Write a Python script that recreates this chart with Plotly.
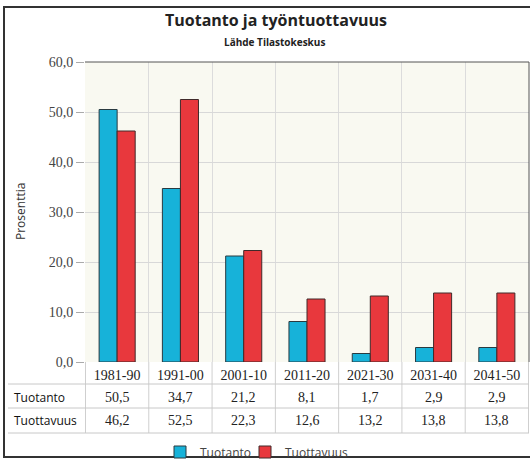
import plotly.graph_objects as go

categories = ["1981-90", "1991-00", "2001-10", "2011-20", "2021-30", "2031-40", "2041-50"]
tuotanto = [50.5, 34.7, 21.2, 8.1, 1.7, 2.9, 2.9]
tuottavuus = [46.2, 52.5, 22.3, 12.6, 13.2, 13.8, 13.8]
series_names = ["Tuotanto", "Tuottavuus"]
y_ticks = [0, 10, 20, 30, 40, 50, 60]

CYAN = "#17b2d9"
RED = "#e8383d"
SERIF = "Liberation Serif"
SANS = "Open Sans"

fig = go.Figure()
fig.add_trace(go.Bar(x=categories, y=tuotanto, name=series_names[0], legend="legend",
                     marker=dict(color=CYAN, line=dict(color="#2a3a40", width=1))))
fig.add_trace(go.Bar(x=categories, y=tuottavuus, name=series_names[1], legend="legend2",
                     marker=dict(color=RED, line=dict(color="#402a2a", width=1))))

def py(p):
    # pixel y -> paper y (plot from 62 to 362)
    return (362 - p) / 300.0

def px(p):
    return (p - 85) / 444.0

shapes = []
for i in range(len(categories) + 1):
    shapes.append(dict(type="line", xref="x", yref="paper", x0=i - 0.5, x1=i - 0.5,
                       y0=0, y1=py(433), line=dict(color="#cfcfcf", width=1)))
for yy in [384, 408, 433]:
    shapes.append(dict(type="line", xref="paper", yref="paper", x0=px(8), x1=1,
                       y0=py(yy), y1=py(yy), line=dict(color="#c8c8c8", width=1)))
shapes.append(dict(type="line", xref="paper", yref="paper", x0=0, x1=1, y0=1, y1=1,
                   line=dict(color="#555", width=1)))
shapes.append(dict(type="line", xref="paper", yref="paper", x0=1, x1=1, y0=0, y1=1,
                   line=dict(color="#555", width=1)))
shapes.append(dict(type="rect", xref="paper", yref="paper", x0=px(4), x1=px(545),
                   y0=py(457), y1=py(7), line=dict(color="#333", width=2)))

annotations = []
for i, c in enumerate(categories):
    annotations.append(dict(x=c, xref="x", y=py(397), yref="paper", xanchor="center", yanchor="middle",
                            text=f"{tuotanto[i]:.1f}".replace(".", ","),
                            showarrow=False, font=dict(family=SERIF, size=14, color="#222")))
    annotations.append(dict(x=c, xref="x", y=py(420), yref="paper", xanchor="center", yanchor="middle",
                            text=f"{tuottavuus[i]:.1f}".replace(".", ","),
                            showarrow=False, font=dict(family=SERIF, size=14, color="#222")))
annotations.append(dict(x=px(12), xref="paper", y=py(397), yref="paper", text=series_names[0],
                        xanchor="left", yanchor="middle", showarrow=False,
                        font=dict(family=SANS, size=12, color="#111")))
annotations.append(dict(x=px(12), xref="paper", y=py(420), yref="paper", text=series_names[1],
                        xanchor="left", yanchor="middle", showarrow=False,
                        font=dict(family=SANS, size=12, color="#111")))
annotations.append(dict(x=px(274), xref="paper", y=py(42), yref="paper", text="<b>Lähde Tilastokeskus</b>",
                        xanchor="center", yanchor="middle", showarrow=False,
                        font=dict(family=SANS, size=10, color="#222")))
annotations.append(dict(x=px(20), xref="paper", y=py(212), yref="paper", text="Prosenttia", textangle=-90,
                        xanchor="center", yanchor="middle", showarrow=False,
                        font=dict(family=SANS, size=12, color="#333")))

legend_common = dict(orientation="h", xanchor="left", yanchor="middle", y=py(452),
                     font=dict(family=SANS, size=12, color="#444"), bgcolor="rgba(0,0,0,0)")

fig.update_layout(
    width=530, height=460,
    margin=dict(l=85, r=1, t=62, b=98, autoexpand=False),
    paper_bgcolor="white", plot_bgcolor="#f9f9f1",
    separators=", ",
    barmode="group", bargap=0.43, bargroupgap=0,
    title=dict(text="<b>Tuotanto ja työntuottavuus</b>", x=276 / 530, xanchor="center", y=1 - 20 / 460,
               yanchor="middle", font=dict(family=SANS, size=16, color="#222")),
    showlegend=True,
    legend=dict(x=px(160), **legend_common),
    legend2=dict(x=px(245), **legend_common),
    shapes=shapes, annotations=annotations,
    xaxis=dict(type="category", tickson="boundaries", showgrid=True, gridcolor="#dcdcdc",
               ticks="", showline=False, tickfont=dict(family=SERIF, size=14, color="#222"),
               ticklabelstandoff=3, automargin=False, fixedrange=True),
    yaxis=dict(range=[0, 60], tickvals=y_ticks, tickformat=".1f", showgrid=True, gridcolor="#d8d8d8",
               ticks="outside", ticklen=8, tickcolor="#aaa", zeroline=False, showline=False,
               tickfont=dict(family=SERIF, size=14, color="#444"), automargin=False, fixedrange=True),
)

fig.write_html("out.html", config={"displayModeBar": False},
               post_script="document.body.style.margin='0';document.body.style.overflow='hidden';")
